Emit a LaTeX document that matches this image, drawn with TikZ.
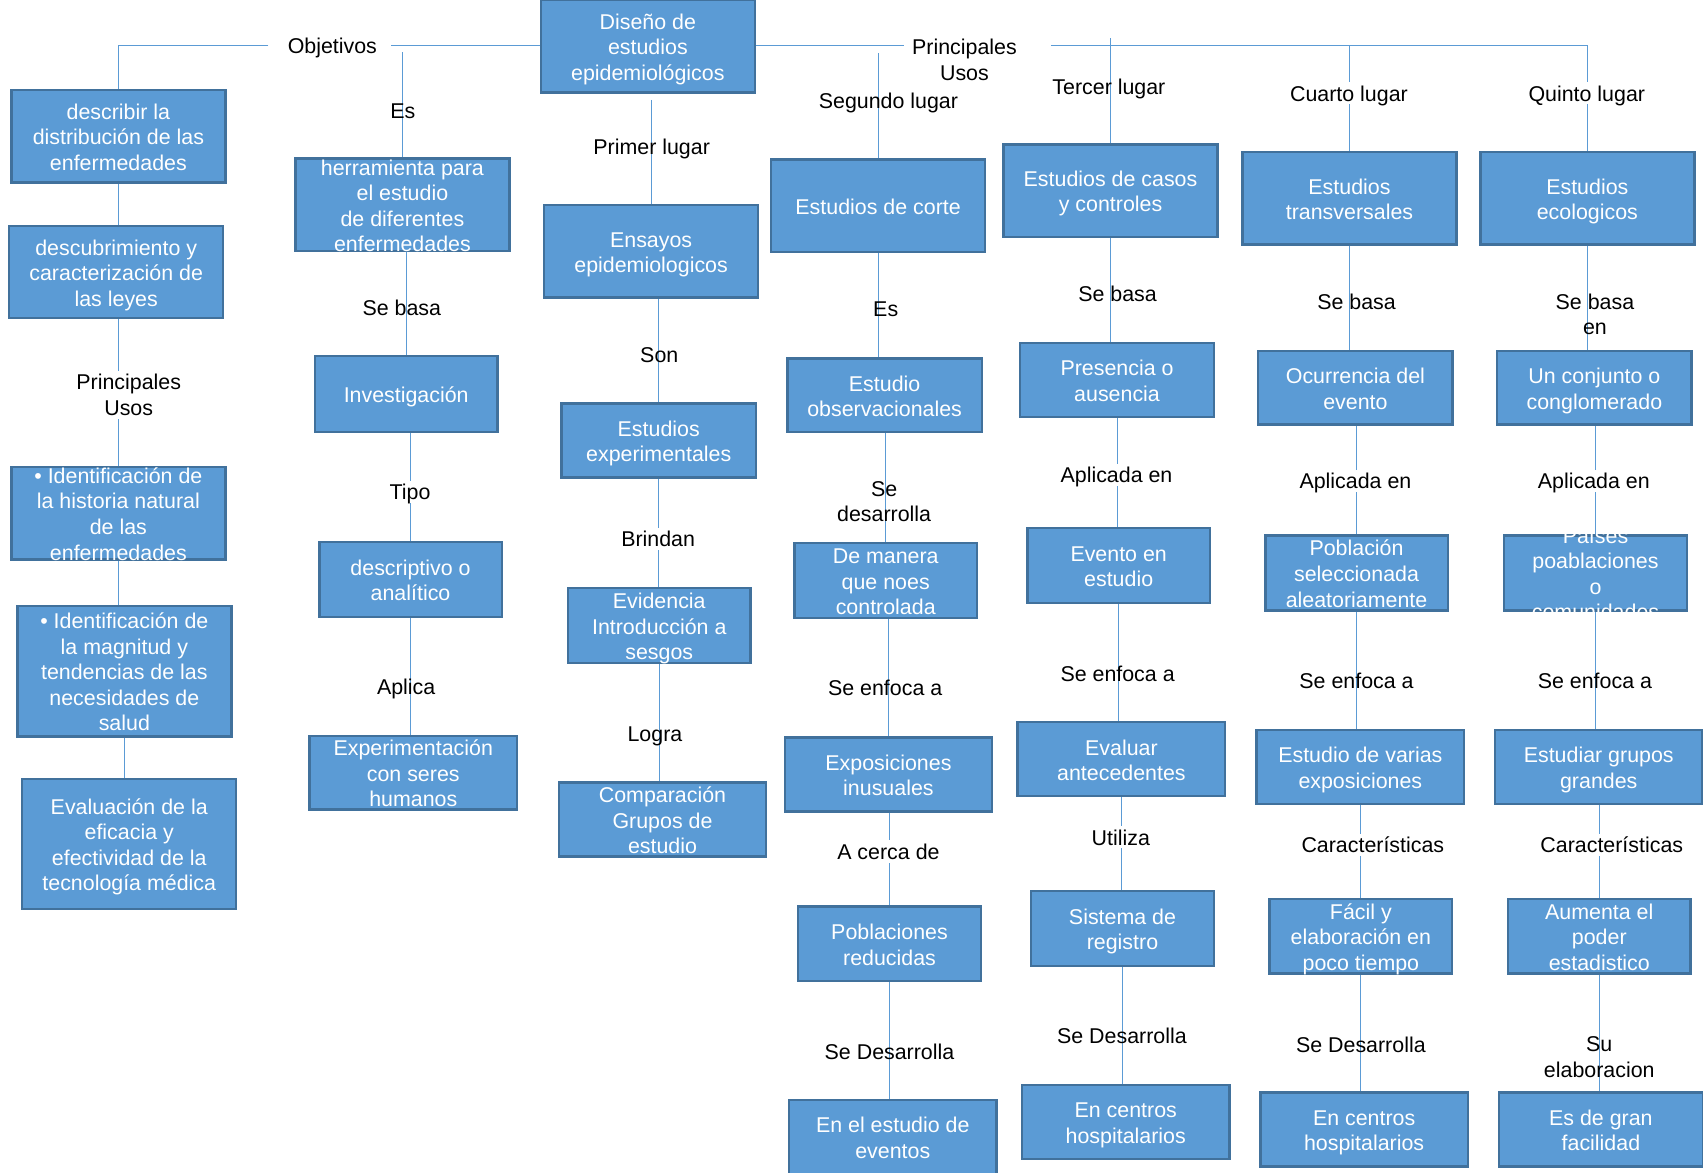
\documentclass[tikz,border=0pt]{standalone}
\usepackage{fontspec}
\setmainfont{Liberation Sans}
\usepackage{xcolor}
\usepackage{tikz}

\definecolor{boxfill}{HTML}{5B9BD5}
\definecolor{boxline}{HTML}{41719C}
\definecolor{linecol}{HTML}{5B9BD5}

% box text takes no room, so the boxes keep their size
\newcommand{\bxt}[1]{\vbox to 0pt{\kern3.2pt\vss\hbox{\begin{tabular}{@{}c@{}}#1\end{tabular}}\vss}}

\tikzset{
  every node/.style={font=\fontsize{9.85}{11.75}\selectfont},
  box/.style={rectangle, draw=boxline, fill=boxfill, line width=1.1pt, text=white, inner sep=0pt},
  bigbox/.style={box, minimum width=98.5pt, minimum height=42.5pt},
  midbox/.style={box, minimum width=89.5pt, minimum height=34pt},
  smallbox/.style={box, minimum width=84pt, minimum height=34.5pt},
  widebox/.style={box, minimum width=95.5pt, minimum height=34pt},
  tallbox/.style={box, minimum width=98.5pt, minimum height=60pt},
  conn/.style={draw=linecol, line width=0.5pt},
  lbl/.style={align=center, inner sep=0pt},
  word/.style={lbl, text depth=0pt},
  gaplbl/.style={lbl, fill=white, inner xsep=1pt, inner ysep=1.5pt},
  gapword/.style={word, fill=white, inner xsep=1pt, inner ysep=1.5pt}
}

\begin{document}
\begin{tikzpicture}[x=0.5pt, y=-0.5pt]
        \useasboundingbox (0,0) rectangle (1568,1080);

        % Define the nodes
        \node[bigbox] (diseno) at (596.5, 42.5) {\bxt{Diseño de\\estudios\\epidemiológicos}};

        % Objetivos
        \node[bigbox] (desc1) at (109, 125.5) {\bxt{describir la\\distribución de las\\enfermedades}};
        \node[bigbox] (desc2) at (107, 250.5) {\bxt{descubrimiento y\\caracterización de\\las leyes}};
        \node[bigbox] (ident1) at (109, 472.5) {\bxt{• Identificación de\\la historia natural\\de las\\enfermedades}};
        \node[tallbox] (ident2) at (114.5, 618) {\bxt{• Identificación de\\la magnitud y\\tendencias de las\\necesidades de\\salud}};
        \node[tallbox] (evalua) at (119, 777) {\bxt{Evaluación de la\\eficacia y\\efectividad de la\\tecnología médica}};

        \node[bigbox] (herram) at (370.5, 188.5) {\bxt{herramienta para\\el estudio\\de diferentes\\enfermedades}};
        \node[smallbox, minimum height=35pt] (invest) at (374, 363) {\bxt{Investigación}};
        \node[smallbox] (descrip) at (378, 533.5) {\bxt{descriptivo o\\analítico}};
        \node[widebox] (experim) at (380.5, 711.5) {\bxt{Experimentación\\con seres\\humanos}};

        % Primer lugar
        \node[bigbox] (ensayos) at (599.5, 231.5) {\bxt{Ensayos\\epidemiologicos}};
        \node[midbox] (experi) at (606.5, 405.5) {\bxt{Estudios\\experimentales}};
        \node[smallbox] (evid) at (607, 576) {\bxt{Evidencia\\Introducción a\\sesgos}};
        \node[widebox] (compar) at (610, 754.5) {\bxt{Comparación\\Grupos de\\estudio}};

        % Segundo lugar
        \node[bigbox] (corte) at (808.5, 189.5) {\bxt{Estudios de corte}};
        \node[midbox] (observ) at (814.5, 364) {\bxt{Estudio\\observacionales}};
        \node[smallbox] (manera) at (815.5, 534.5) {\bxt{De manera\\que noes\\controlada}};
        \node[widebox] (exposic) at (818, 713) {\bxt{Exposiciones\\inusuales}};
        \node[smallbox] (poblac) at (819, 869) {\bxt{Poblaciones\\reducidas}};
        \node[widebox] (eventos) at (822, 1047) {\bxt{En el estudio de\\eventos}};

        % Tercer lugar
        \node[bigbox] (casos) at (1022.5, 175.5) {\bxt{Estudios de casos\\y controles}};
        \node[midbox] (presen) at (1028.5, 350) {\bxt{Presencia o\\ausencia}};
        \node[smallbox] (evento) at (1030, 520.5) {\bxt{Evento en\\estudio}};
        \node[widebox] (evaluar) at (1032.5, 699) {\bxt{Evaluar\\antecedentes}};
        \node[smallbox] (sistema) at (1033.5, 855) {\bxt{Sistema de\\registro}};
        \node[widebox] (hosp1) at (1036.5, 1033) {\bxt{En centros\\hospitalarios}};

        % Cuarto lugar
        \node[bigbox] (transv) at (1242.5, 182.5) {\bxt{Estudios\\transversales}};
        \node[midbox] (ocurr) at (1248, 357) {\bxt{Ocurrencia del\\evento}};
        \node[smallbox] (poblsel) at (1249, 527.5) {\bxt{Población\\seleccionada\\aleatoriamente}};
        \node[widebox] (varias) at (1252.5, 706) {\bxt{Estudio de varias\\exposiciones}};
        \node[smallbox] (facil) at (1253, 862) {\bxt{Fácil y\\elaboración en\\poco tiempo}};
        \node[widebox] (hosp2) at (1256, 1040) {\bxt{En centros\\hospitalarios}};

        % Quinto lugar
        \node[bigbox] (eco) at (1461.5, 182.5) {\bxt{Estudios\\ecologicos}};
        \node[midbox] (conjunto) at (1468, 357) {\bxt{Un conjunto o\\conglomerado}};
        \node[smallbox] (paises) at (1469, 527.5) {\bxt{Países\\poablaciones\\o\\comunidades}};
        \node[widebox] (grupos) at (1472, 706) {\bxt{Estudiar grupos\\grandes}};
        \node[smallbox] (aumenta) at (1472.5, 862) {\bxt{Aumenta el\\poder\\estadistico}};
        \node[widebox, minimum width=94pt] (facilidad) at (1474, 1040) {\bxt{Es de gran\\facilidad}};

        % Free ends of the top lines
        \coordinate (ob-w) at (247, 42);
        \coordinate (ob-e) at (360, 42);
        \coordinate (pu-w) at (832, 42);
        \coordinate (pu-e) at (967.5, 42);
        \coordinate (es-top) at (370.5, 48);
        \coordinate (seg-top) at (808.5, 49);
        \coordinate (ter-top) at (1022.5, 35);
        \coordinate (pri-top) at (599.5, 92);

        % Draw the lines
        \draw[conn] (ob-e -| diseno.west) -- (ob-e);
        \draw[conn] (ob-w) -| (desc1.north);
        \draw[conn] (es-top) -- (herram.north);
        \draw[conn] (pu-w -| diseno.east) -- (pu-w);
        \draw[conn] (pu-e) -| (eco.north);
        \draw[conn] (seg-top) -- (corte.north);
        \draw[conn] (ter-top) -- (casos.north);
        \draw[conn] (transv.north) -- (transv.north |- pu-e);
        \draw[conn] (pri-top) -- (ensayos.north);

        \draw[conn] (desc1.south) -- (desc1.south |- desc2.north);
        \draw[conn] (desc2.south -| ident1.north) -- (ident1.north);
        \draw[conn] (ident1.south) -- (ident1.south |- ident2.north);
        \draw[conn] (ident2.south) -- (ident2.south |- evalua.north);

        \draw[conn] (herram.south -| invest.north) -- (invest.north);
        \draw[conn] (invest.south -| descrip.north) -- (descrip.north);
        \draw[conn] (descrip.south) -- (descrip.south |- experim.north);

        \draw[conn] (ensayos.south -| experi.north) -- (experi.north);
        \draw[conn] (experi.south) -- (experi.south |- evid.north);
        \draw[conn] (evid.south) -- (evid.south |- compar.north);

        \draw[conn] (corte.south) -- (corte.south |- observ.north);
        \draw[conn] (observ.south -| manera.north) -- (manera.north);
        \draw[conn] (manera.south -| exposic.north) -- (exposic.north);
        \draw[conn] (exposic.south -| poblac.north) -- (poblac.north);
        \draw[conn] (poblac.south) -- (poblac.south |- eventos.north);

        \draw[conn] (casos.south) -- (casos.south |- presen.north);
        \draw[conn] (presen.south) -- (presen.south |- evento.north);
        \draw[conn] (evento.south) -- (evento.south |- evaluar.north);
        \draw[conn] (evaluar.south) -- (evaluar.south |- sistema.north);
        \draw[conn] (sistema.south) -- (sistema.south |- hosp1.north);

        \draw[conn] (transv.south) -- (transv.south |- ocurr.north);
        \draw[conn] (ocurr.south -| poblsel.north) -- (poblsel.north);
        \draw[conn] (poblsel.south) -- (poblsel.south |- varias.north);
        \draw[conn] (varias.south -| facil.north) -- (facil.north);
        \draw[conn] (facil.south) -- (facil.south |- hosp2.north);

        \draw[conn] (eco.south) -- (eco.south |- conjunto.north);
        \draw[conn] (conjunto.south -| paises.north) -- (paises.north);
        \draw[conn] (paises.south) -- (paises.south |- grupos.north);
        \draw[conn] (grupos.south -| aumenta.north) -- (aumenta.north);
        \draw[conn] (aumenta.south) -- (aumenta.south |- facilidad.north);

        % Labels on the lines
        \node[word] (objetivos) at (306, 42) {Objetivos};
        \node[lbl] (usos) at (888, 55) {Principales\\Usos};
        \node[word] (es1) at (371, 102) {Es};
        \node[word] (primer) at (600, 135.5) {Primer lugar};
        \node[word] (segundo) at (818, 93) {Segundo lugar};
        \node[word] (tercer) at (1021, 80) {Tercer lugar};
        \node[gapword] (cuarto) at (1242, 86) {Cuarto lugar};
        \node[gapword] (quinto) at (1461, 86) {Quinto lugar};

        \node[gaplbl] (usos2) at (118.5, 363.5) {Principales\\Usos};

        \node[word] (sebasa1) at (370, 283.5) {Se basa};
        \node[gapword] (tipo) at (377.5, 453) {Tipo};
        \node[word] (aplica) at (374, 632.5) {Aplica};

        \node[word] (son) at (607, 327) {Son};
        \node[gapword] (brindan) at (606, 496.5) {Brindan};
        \node[word] (logra) at (603, 676) {Logra};

        \node[word] (es2) at (815.5, 284.5) {Es};
        \node[lbl] (desarr1) at (814, 462) {Se\\desarrolla};
        \node[word] (enfoca1) at (815, 633) {Se enfoca a};
        \node[gapword] (acerca) at (818, 784) {A cerca de};
        \node[word] (desarr2) at (819, 968) {Se Desarrolla};

        \node[word] (sebasa2) at (1029, 270.5) {Se basa};
        \node[gapword] (aplicada1) at (1028, 437) {Aplicada en};
        \node[word] (enfoca2) at (1029, 620) {Se enfoca a};
        \node[gapword] (utiliza) at (1032, 771) {Utiliza};
        \node[word] (desarr3) at (1033, 954) {Se Desarrolla};

        \node[word] (sebasa3) at (1249, 278) {Se basa};
        \node[gapword] (aplicada2) at (1248, 443) {Aplicada en};
        \node[word] (enfoca3) at (1249, 627) {Se enfoca a};
        \node[gapword] (caract1) at (1264, 778) {Características};
        \node[word] (desarr4) at (1253, 961.5) {Se Desarrolla};

        \node[lbl] (sebasa4) at (1468.5, 289.5) {Se basa\\en};
        \node[gapword] (aplicada3) at (1467.5, 443) {Aplicada en};
        \node[word] (enfoca4) at (1468.5, 627) {Se enfoca a};
        \node[gapword] (caract2) at (1484, 778) {Características};
        \node[lbl] (elabora) at (1472.5, 973.5) {Su\\elaboracion};
    \end{tikzpicture}
\end{document}
